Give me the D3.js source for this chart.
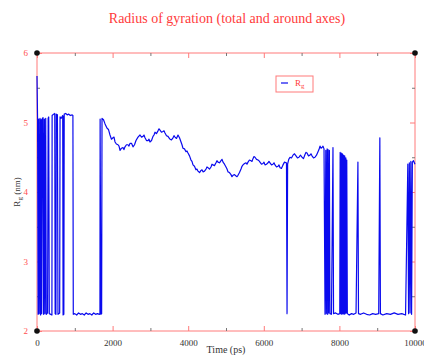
<!DOCTYPE html>
<html>
<head>
<meta charset="utf-8">
<script src="https://cdn.jsdelivr.net/npm/d3@7"></script>
<style>
  body { margin: 0; background: #fff; }
  svg { display: block; font-family: "Liberation Serif", "DejaVu Serif", serif; }
</style>
</head>
<body>
<svg id="chart" width="424" height="355"></svg>
<script>
// data: [time (ps), Rg (nm)]
// first ~1.8 ns: Rg flips between ~5.1 and ~2.2 nm
const earlySpikes = [
  [0, 5.67], [15, 5.05], [30, 2.24], [45, 5.05], [60, 2.25], [80, 5.06], [95, 2.23], [110, 5.04],
  [125, 2.25], [140, 5.06], [160, 5.07], [175, 2.24], [195, 5.05], [210, 2.25], [230, 5.06], [245, 2.24],
  [280, 2.26], [295, 5.06], [310, 5.08], [325, 2.25], [395, 2.23], [400, 5.10], [440, 5.12], [470, 5.13],
  [480, 2.25], [500, 2.24], [510, 5.12], [540, 5.11], [555, 2.24], [600, 2.26], [610, 5.08], [640, 5.06],
  [680, 5.10], [690, 2.23], [700, 5.09], [710, 2.24], [720, 5.12], [760, 5.13], [800, 5.11], [840, 5.12],
  [880, 5.10], [930, 5.11], [950, 5.10], [960, 2.24], [1000, 2.25], [1050, 2.23], [1100, 2.26], [1150, 2.24],
  [1200, 2.25], [1250, 2.23], [1300, 2.26], [1350, 2.24], [1400, 2.25], [1450, 2.23], [1500, 2.26], [1550, 2.24],
  [1600, 2.25], [1650, 2.24], [1665, 2.25], [1670, 5.05], [1690, 2.24], [1710, 2.25], [1720, 5.06], [1760, 5.04],
  [1800, 4.98], [1850, 4.92]
];
// continuous drift 1.9 - 7.6 ns
const driftPhase = [
  [1890, 4.90], [1931, 4.82], [1970, 4.76], [2011, 4.78], [2037, 4.79], [2064, 4.72], [2100, 4.69], [2143, 4.68],
  [2170, 4.66], [2196, 4.60], [2235, 4.63], [2275, 4.64], [2300, 4.61], [2328, 4.65], [2367, 4.68], [2407, 4.68],
  [2433, 4.66], [2460, 4.70], [2500, 4.70], [2540, 4.65], [2580, 4.68], [2619, 4.74], [2672, 4.79], [2725, 4.82],
  [2765, 4.79], [2804, 4.80], [2830, 4.82], [2857, 4.78], [2897, 4.74], [2937, 4.74], [2963, 4.76], [2989, 4.72],
  [3030, 4.74], [3069, 4.80], [3095, 4.82], [3122, 4.86], [3160, 4.84], [3201, 4.88], [3228, 4.91], [3254, 4.89],
  [3293, 4.86], [3333, 4.87], [3360, 4.88], [3386, 4.85], [3426, 4.81], [3466, 4.80], [3492, 4.78], [3519, 4.76],
  [3558, 4.75], [3598, 4.78], [3625, 4.81], [3651, 4.79], [3690, 4.77], [3730, 4.82], [3770, 4.78], [3810, 4.72],
  [3836, 4.68], [3862, 4.63], [3902, 4.62], [3942, 4.58], [3968, 4.59], [3995, 4.56], [4035, 4.52], [4074, 4.46],
  [4100, 4.44], [4127, 4.39], [4166, 4.37], [4206, 4.32], [4232, 4.33], [4259, 4.30], [4300, 4.28], [4339, 4.31],
  [4365, 4.32], [4392, 4.29], [4431, 4.30], [4471, 4.33], [4497, 4.36], [4524, 4.35], [4563, 4.33], [4603, 4.36],
  [4630, 4.40], [4656, 4.39], [4695, 4.38], [4735, 4.42], [4761, 4.45], [4788, 4.43], [4828, 4.42], [4868, 4.45],
  [4895, 4.47], [4921, 4.43], [4960, 4.40], [5000, 4.36], [5027, 4.33], [5053, 4.29], [5092, 4.28], [5132, 4.25],
  [5158, 4.22], [5185, 4.24], [5225, 4.25], [5265, 4.23], [5291, 4.22], [5317, 4.24], [5357, 4.28], [5397, 4.33],
  [5423, 4.37], [5450, 4.39], [5490, 4.41], [5529, 4.42], [5555, 4.40], [5582, 4.43], [5620, 4.46], [5661, 4.45],
  [5688, 4.44], [5714, 4.48], [5740, 4.51], [5767, 4.50], [5807, 4.47], [5847, 4.46], [5873, 4.45], [5899, 4.43],
  [5939, 4.40], [5979, 4.41], [6005, 4.43], [6032, 4.39], [6071, 4.40], [6111, 4.42], [6137, 4.44], [6164, 4.42],
  [6204, 4.39], [6243, 4.40], [6270, 4.42], [6296, 4.39], [6336, 4.36], [6376, 4.37], [6402, 4.39], [6429, 4.35],
  [6468, 4.34], [6508, 4.39], [6547, 4.43], [6587, 4.42], [6600, 4.42], [6615, 2.25], [6630, 4.40], [6660, 4.47],
  [6693, 4.50], [6732, 4.49], [6772, 4.53], [6812, 4.55], [6852, 4.52], [6890, 4.49], [6931, 4.50], [6970, 4.53],
  [7011, 4.50], [7050, 4.48], [7090, 4.54], [7117, 4.57], [7143, 4.56], [7182, 4.52], [7222, 4.53], [7248, 4.55],
  [7275, 4.52], [7315, 4.49], [7354, 4.50], [7394, 4.53], [7434, 4.58], [7460, 4.61], [7487, 4.66], [7514, 4.63],
  [7540, 4.64], [7566, 4.66], [7593, 4.62]
];
// last ~2.4 ns: mostly ~2.2 nm with spikes back up
const lateSpikes = [
  [7620, 2.24], [7640, 4.60], [7655, 2.25], [7675, 4.62], [7690, 2.24], [7700, 4.61], [7715, 2.26], [7735, 4.60],
  [7750, 2.25], [7790, 2.24], [7830, 4.64], [7845, 2.25], [7900, 2.26], [7960, 2.24], [8010, 2.25], [8020, 4.57],
  [8035, 2.25], [8050, 4.56], [8065, 2.24], [8080, 4.55], [8095, 2.25], [8110, 4.53], [8125, 2.24], [8140, 4.52],
  [8155, 2.25], [8170, 4.49], [8185, 2.26], [8195, 4.46], [8210, 2.25], [8260, 2.23], [8320, 2.25], [8380, 2.24],
  [8440, 2.26], [8490, 4.43], [8505, 2.25], [8560, 2.24], [8640, 2.26], [8720, 2.24], [8800, 2.23], [8880, 2.25],
  [8960, 2.24], [9040, 2.25], [9070, 4.78], [9085, 2.25], [9150, 2.23], [9250, 2.25], [9350, 2.24], [9450, 2.26],
  [9550, 2.24], [9650, 2.25], [9750, 2.23], [9810, 4.40], [9830, 2.25], [9850, 4.42], [9870, 2.26], [9890, 4.44],
  [9910, 2.24], [9930, 4.43], [9960, 4.45], [10000, 4.40]
];
const xMajorTicks = [0, 2000, 4000, 6000, 8000, 10000];
const xMinorTicks = [1000, 3000, 5000, 7000, 9000];
const yMajorTicks = [2, 3, 4, 5, 6];
const yMinorTicks = [2.5, 3.5, 4.5, 5.5];

const titleText = "Radius of gyration (total and around axes)";

// config
const W = 424, H = 355;
const margin = {top: 53, right: 9, bottom: 24, left: 37};
const svg = d3.select("#chart");

const x = d3.scaleLinear().domain([0, 10000]).range([margin.left, W - margin.right]);
const y = d3.scaleLinear().domain([2, 6]).range([H - margin.bottom, margin.top]);

const frameColor = "#ff7a7a";
const minorColor = "#777";
const lineColor = "#0a0aee";

// frame
svg.append("rect")
    .attr("x", x(0)).attr("y", y(6))
    .attr("width", x(10000) - x(0)).attr("height", y(2) - y(6))
    .attr("fill", "none").attr("stroke", frameColor).attr("stroke-width", 1);

// axes, ticks pointing inward
function styleAxis(g, col) {
    g.select(".domain").remove();
    g.selectAll(".tick line").attr("stroke", col);
}
svg.append("g").attr("transform", `translate(0,${y(2)})`)
    .call(d3.axisBottom(x).tickValues(xMajorTicks).tickSizeInner(-5).tickSizeOuter(0).tickPadding(9).tickFormat(d3.format("d")))
    .call(g => styleAxis(g, frameColor))
    .call(g => g.selectAll("text").attr("fill", "#333").style("font-size", "9px").style("font-family", "Liberation Serif, serif"));
svg.append("g").attr("transform", `translate(0,${y(2)})`)
    .call(d3.axisBottom(x).tickValues(xMinorTicks).tickSizeInner(-3).tickSizeOuter(0).tickFormat(""))
    .call(g => styleAxis(g, minorColor));
svg.append("g").attr("transform", `translate(0,${y(6)})`)
    .call(d3.axisTop(x).tickValues(xMajorTicks).tickSizeInner(-5).tickSizeOuter(0).tickFormat(""))
    .call(g => styleAxis(g, frameColor));
svg.append("g").attr("transform", `translate(0,${y(6)})`)
    .call(d3.axisTop(x).tickValues(xMinorTicks).tickSizeInner(-3).tickSizeOuter(0).tickFormat(""))
    .call(g => styleAxis(g, minorColor));

svg.append("g").attr("transform", `translate(${x(0)},0)`)
    .call(d3.axisLeft(y).tickValues(yMajorTicks).tickSizeInner(-5).tickSizeOuter(0).tickPadding(9).tickFormat(d3.format("d")))
    .call(g => styleAxis(g, frameColor))
    .call(g => g.selectAll("text").attr("fill", "#ff5050").style("font-size", "9px").style("font-family", "Liberation Serif, serif"));
svg.append("g").attr("transform", `translate(${x(0)},0)`)
    .call(d3.axisLeft(y).tickValues(yMinorTicks).tickSizeInner(-3).tickSizeOuter(0).tickFormat(""))
    .call(g => styleAxis(g, minorColor));
svg.append("g").attr("transform", `translate(${x(10000)},0)`)
    .call(d3.axisRight(y).tickValues(yMajorTicks).tickSizeInner(-5).tickSizeOuter(0).tickFormat(""))
    .call(g => styleAxis(g, frameColor));
svg.append("g").attr("transform", `translate(${x(10000)},0)`)
    .call(d3.axisRight(y).tickValues(yMinorTicks).tickSizeInner(-3).tickSizeOuter(0).tickFormat(""))
    .call(g => styleAxis(g, minorColor));

// data line
const pts = earlySpikes.concat(driftPhase, lateSpikes);
svg.append("path")
    .datum(pts)
    .attr("fill", "none")
    .attr("stroke", lineColor)
    .attr("stroke-width", 1.2)
    .attr("stroke-linejoin", "round")
    .attr("d", d3.line().x(d => x(d[0])).y(d => y(d[1])));

// corner dots
[[0, 6], [10000, 6], [0, 2], [10000, 2]].forEach(c => {
    svg.append("circle").attr("cx", x(c[0])).attr("cy", y(c[1])).attr("r", 2.8).attr("fill", "#111");
});

// title
svg.append("text")
    .attr("x", 227).attr("y", 23)
    .attr("text-anchor", "middle")
    .attr("fill", "#ff3b3b")
    .style("font-size", "14px")
    .text(titleText);

// axis titles
svg.append("text")
    .attr("x", (x(0) + x(10000)) / 2).attr("y", 353)
    .attr("text-anchor", "middle")
    .attr("fill", "#333")
    .style("font-size", "10px")
    .text("Time (ps)");

const yl = svg.append("text")
    .attr("transform", `translate(20,${(y(2) + y(6)) / 2}) rotate(-90)`)
    .attr("text-anchor", "middle")
    .attr("fill", "#333")
    .style("font-size", "9px");
yl.append("tspan").text("R");
yl.append("tspan").attr("dy", 2).style("font-size", "7px").text("g");
yl.append("tspan").attr("dy", -2).text(" (nm)");

// legend
const lg = svg.append("g");
lg.append("rect").attr("x", 276).attr("y", 76).attr("width", 37).attr("height", 16)
    .attr("fill", "#fff").attr("stroke", frameColor);
lg.append("line").attr("x1", 281).attr("x2", 288).attr("y1", 83).attr("y2", 83)
    .attr("stroke", lineColor).attr("stroke-width", 1.2);
const lt = lg.append("text").attr("x", 295).attr("y", 86).attr("fill", "#ff3b3b").style("font-size", "9px");
lt.append("tspan").text("R");
lt.append("tspan").attr("dy", 2).style("font-size", "7px").text("g");
</script>
</body>
</html>
